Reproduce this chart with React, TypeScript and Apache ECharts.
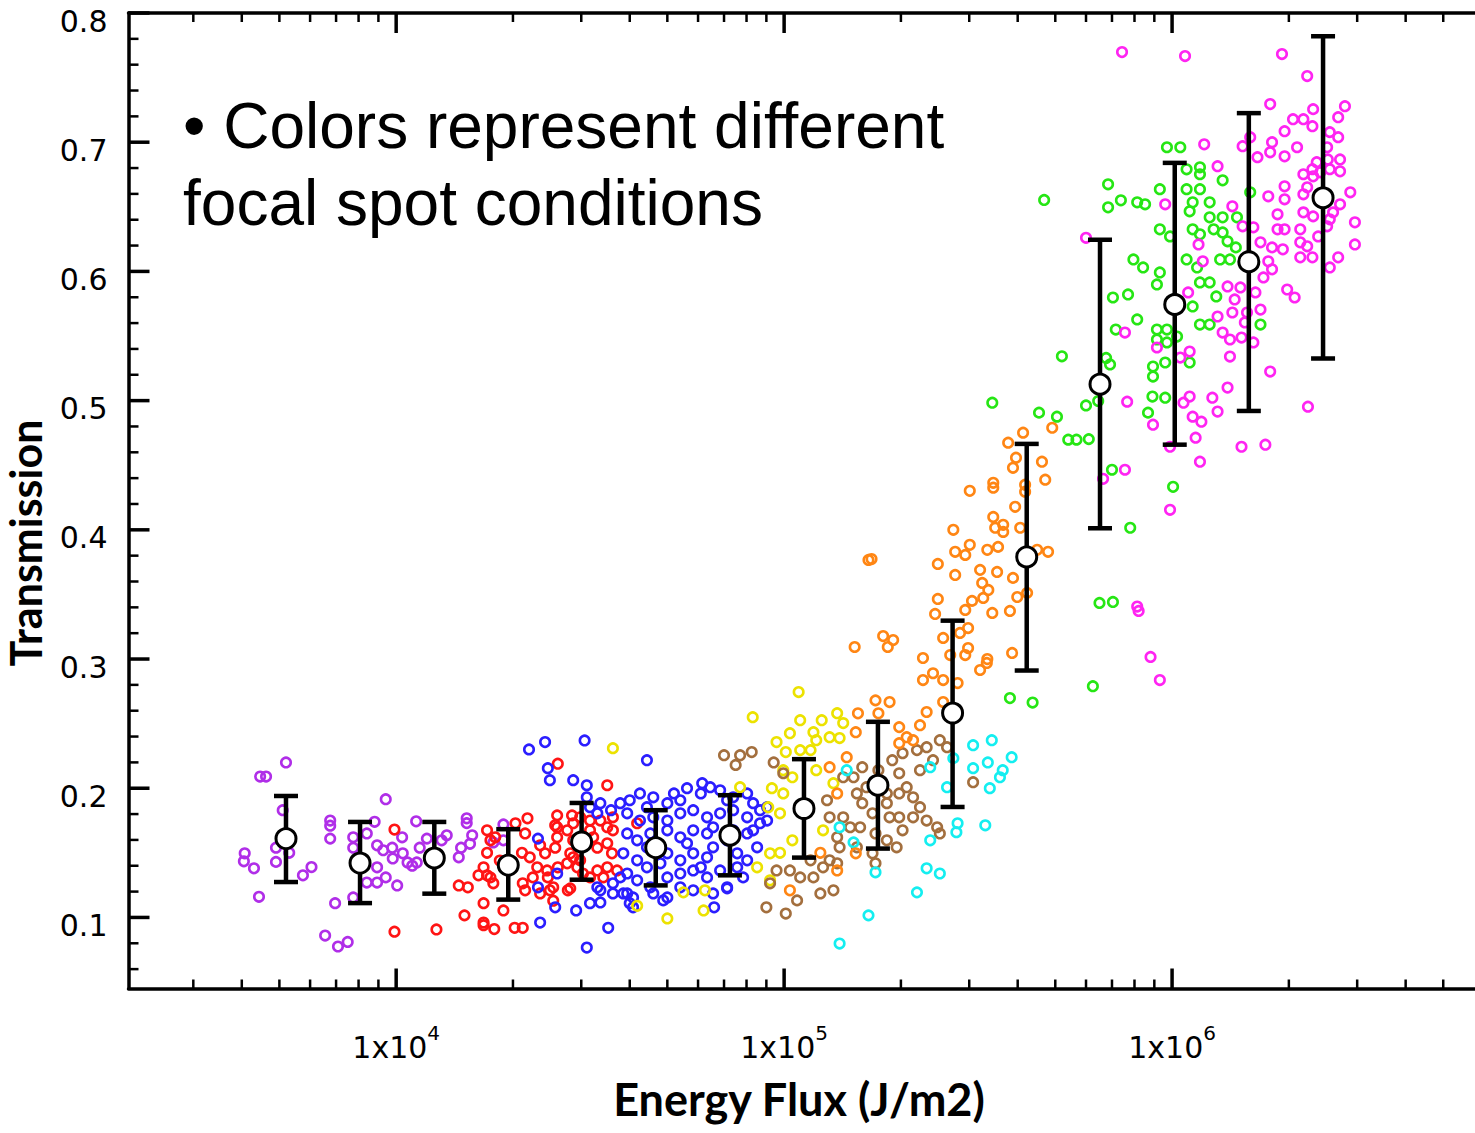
import React, { useEffect, useRef } from "react";
import * as echarts from "echarts";

// ---------- axis extents & ticks ----------
const X_MIN = 2042;
const X_MAX = 6.037e6;
const Y_MIN = 0.045;
const Y_MAX = 0.8;
const xMajorTicks = [1e4, 1e5, 1e6];
const xMinorTicks = [3e3, 4e3, 5e3, 6e3, 7e3, 8e3, 9e3, 2e4, 3e4, 4e4, 5e4, 6e4, 7e4, 8e4, 9e4, 2e5, 3e5, 4e5, 5e5, 6e5, 7e5, 8e5, 9e5, 2e6, 3e6, 4e6, 5e6];
const yMajorTicks = [0.1, 0.2, 0.3, 0.4, 0.5, 0.6, 0.7, 0.8];
const yMinorTicks = [0.06, 0.08, 0.12, 0.14, 0.16, 0.18, 0.22, 0.24, 0.26, 0.28, 0.32, 0.34, 0.36, 0.38, 0.42, 0.44, 0.46, 0.48, 0.52, 0.54, 0.56, 0.58, 0.62, 0.64, 0.66, 0.68, 0.72, 0.74, 0.76, 0.78];

// ---------- binned means with error bars ----------
const binFlux = [5.2e3, 8.07e3, 1.254e4, 1.945e4, 3.006e4, 4.667e4, 7.25e4, 1.125e5, 1.745e5, 2.718e5, 4.22e5, 6.52e5, 1.016e6, 1.577e6, 2.45e6];
const binMean = [0.161, 0.1421, 0.146, 0.1405, 0.1584, 0.154, 0.1636, 0.1843, 0.2023, 0.2582, 0.379, 0.5127, 0.5744, 0.6075, 0.657];
const binHigh = [0.194, 0.1739, 0.1739, 0.1683, 0.1886, 0.183, 0.1946, 0.2225, 0.2514, 0.3297, 0.4665, 0.6245, 0.684, 0.7225, 0.782];
const binLow = [0.1274, 0.1111, 0.1184, 0.1138, 0.1292, 0.1248, 0.1326, 0.1463, 0.1533, 0.1855, 0.2911, 0.4012, 0.4659, 0.492, 0.5326];

// ---------- individual shots, one array per focal spot condition ----------
const purpleShots = [
  [5.2e3, 0.22], [4.46e3, 0.209], [4.62e3, 0.209], [5.1e3, 0.183], [9.4e3, 0.1915],
  [4.07e3, 0.1496], [4.05e3, 0.1434], [4.3e3, 0.138], [4.9e3, 0.154], [4.9e3, 0.143], [5.3e3, 0.15],
  [5.75e3, 0.1326], [6.05e3, 0.139], [4.43e3, 0.116],
  [6.76e3, 0.175], [6.76e3, 0.171], [6.76e3, 0.161], [6.96e3, 0.111],
  [6.56e3, 0.086], [7.08e3, 0.0775], [7.5e3, 0.081],
  [7.75e3, 0.162], [7.75e3, 0.154], [7.75e3, 0.1155],
  [8.8e3, 0.174], [8.4e3, 0.165],
  [8.93e3, 0.1558], [9.26e3, 0.152], [9.77e3, 0.154], [9.8e3, 0.1457], [1.036e4, 0.162], [1.04e4, 0.1496], [1.07e4, 0.1426], [1.1e4, 0.14], [1.13e4, 0.1426],
  [8.4e3, 0.127], [8.93e3, 0.1388], [8.93e3, 0.127], [9.4e3, 0.131], [1.006e4, 0.1248],
  [1.126e4, 0.1744], [1.2e4, 0.161], [1.15e4, 0.154],
  [1.35e4, 0.1636], [1.31e4, 0.1597],
  [1.52e4, 0.1767], [1.52e4, 0.173],
  [1.55e4, 0.157], [1.47e4, 0.154], [1.45e4, 0.1465], [1.57e4, 0.1636],
  [1.89e4, 0.172], [1.78e4, 0.158], [1.89e4, 0.1597],
];

const redShots = [
  [9.9e3, 0.168], [9.9e3, 0.089], [1.27e4, 0.0907], [1.45e4, 0.1248], [1.53e4, 0.1233], [1.5e4, 0.1016],
  [1.68e4, 0.111], [1.68e4, 0.096], [1.68e4, 0.094], [1.79e4, 0.091], [1.89e4, 0.1054], [2.02e4, 0.092], [2.12e4, 0.092],
  [1.715e4, 0.1674], [1.75e4, 0.1597], [1.715e4, 0.15], [1.63e4, 0.1326], [1.715e4, 0.1326], [1.78e4, 0.1264], [1.68e4, 0.1388],
  [2.03e4, 0.1729], [2.18e4, 0.1767], [2.15e4, 0.165], [2.11e4, 0.15], [2.21e4, 0.1465], [2.35e4, 0.1558], [2.31e4, 0.1388], [2.42e4, 0.1496],
  [2.6e4, 0.179], [2.57e4, 0.1713], [2.76e4, 0.1674], [2.61e4, 0.1388], [2.54e4, 0.1233], [2.84e4, 0.179], [2.86e4, 0.1465], [2.81e4, 0.1225],
  [2.54e4, 0.113], [2.35e4, 0.1186], [2.15e4, 0.121], [2.46e4, 0.131], [2.6e4, 0.162], [2.57e4, 0.154],
  [2.61e4, 0.219], [3.5e4, 0.2023], [4.18e4, 0.1729],
  [1.8e4, 0.162], [1.85e4, 0.144], [1.75e4, 0.131], [2.12e4, 0.1264], [2.49e4, 0.121], [2.77e4, 0.121], [2.45e4, 0.1364], [2.25e4, 0.131],
  [2.6e4, 0.1698], [2.86e4, 0.1729], [2.98e4, 0.1775], [3.16e4, 0.175], [3.36e4, 0.175], [3.16e4, 0.1674], [3.5e4, 0.1698], [3.62e4, 0.1775], [3.62e4, 0.1674],
  [2.86e4, 0.1597], [2.81e4, 0.1496], [2.98e4, 0.1442], [3.22e4, 0.162], [3.3e4, 0.154], [3.5e4, 0.1574], [3.6e4, 0.1496], [3.5e4, 0.1388], [3.71e4, 0.1364],
  [3.3e4, 0.1364], [3.16e4, 0.131], [3.42e4, 0.131], [2.93e4, 0.1388], [3.03e4, 0.134], [2.76e4, 0.1419],
];

const blueShots = [
  [2.2e4, 0.23], [2.42e4, 0.2357], [3.06e4, 0.237], [4.43e4, 0.2217], [2.46e4, 0.2155], [2.49e4, 0.2062], [2.86e4, 0.2062], [3.1e4, 0.2023], [3.1e4, 0.193], [3.36e4, 0.1884],
  [2.35e4, 0.096], [2.57e4, 0.1078], [2.91e4, 0.1054], [2.32e4, 0.161], [2.32e4, 0.1233],
  [3.16e4, 0.111], [3.36e4, 0.1116], [3.52e4, 0.092], [3.1e4, 0.0767], [4.0e4, 0.111], [3.94e4, 0.1186], [3.62e4, 0.1264], [3.36e4, 0.121],
  [3.16e4, 0.1853], [3.3e4, 0.1806], [3.58e4, 0.183], [3.78e4, 0.1884], [3.3e4, 0.1233], [3.62e4, 0.1186], [3.78e4, 0.131], [2.6e4, 0.134],
  [4.25e4, 0.196], [4.6e4, 0.193], [5.0e4, 0.1884], [5.4e4, 0.1907], [5.62e4, 0.2], [6.15e4, 0.2039], [6.45e4, 0.2008], [6.84e4, 0.1984], [7.39e4, 0.193], [8.03e4, 0.196], [8.32e4, 0.1884], [9.04e4, 0.1853],
  [3.94e4, 0.1806], [4.25e4, 0.175], [4.6e4, 0.1775], [5.0e4, 0.175], [5.4e4, 0.1806], [5.83e4, 0.183], [6.33e4, 0.1775], [6.84e4, 0.1806], [7.39e4, 0.183], [8.03e4, 0.1775], [8.67e4, 0.1729], [9.04e4, 0.175],
  [3.94e4, 0.165], [4.18e4, 0.1597], [4.52e4, 0.165], [5.0e4, 0.1674], [5.4e4, 0.162], [5.83e4, 0.1674], [6.33e4, 0.165], [6.56e4, 0.1698], [7.39e4, 0.1674], [8.03e4, 0.165], [8.52e4, 0.1543],
  [3.85e4, 0.1496], [4.18e4, 0.1442], [4.43e4, 0.1388], [5.0e4, 0.1496], [5.4e4, 0.1442], [5.83e4, 0.1496], [6.33e4, 0.1465], [6.56e4, 0.1543], [7.57e4, 0.1496], [8.03e4, 0.1442],
  [3.94e4, 0.134], [4.18e4, 0.1287], [4.52e4, 0.1233], [5.0e4, 0.131], [5.4e4, 0.134], [5.83e4, 0.1364], [6.33e4, 0.131], [6.84e4, 0.1364], [7.57e4, 0.1388], [7.84e4, 0.131],
  [3.85e4, 0.1186], [4.08e4, 0.1155], [4.6e4, 0.1186], [5.0e4, 0.1155], [5.4e4, 0.1233], [5.83e4, 0.121], [6.56e4, 0.1186], [7.13e4, 0.1233], [6.6e4, 0.1078], [4.88e4, 0.1132], [4.08e4, 0.1078],
  [4.0e4, 0.1907], [5.2e4, 0.196], [7.13e4, 0.1907], [6.1e4, 0.196], [4.43e4, 0.1543], [5.62e4, 0.1574], [7.13e4, 0.1597], [4.8e4, 0.1419], [6.1e4, 0.1388], [8.32e4, 0.1674], [4.43e4, 0.1853], [8.67e4, 0.183],
  [7.13e4, 0.1225],
];

const yellowShots = [
  [3.62e4, 0.231], [5.0e4, 0.0992], [5.5e4, 0.1194], [4.18e4, 0.109], [9.2e4, 0.1287],
  [1.09e5, 0.2744], [8.3e4, 0.255],
  [9.56e4, 0.2357], [1.035e5, 0.2426], [1.1e5, 0.2527], [1.19e5, 0.2434], [1.25e5, 0.2527], [1.37e5, 0.2581], [1.42e5, 0.2504], [1.21e5, 0.2372], [1.31e5, 0.2395], [1.39e5, 0.2388],
  [1.01e5, 0.228], [1.1e5, 0.2295], [1.17e5, 0.2295], [9.95e4, 0.214], [1.05e5, 0.2085], [1.21e5, 0.214], [9.95e4, 0.196], [9.3e4, 0.2], [9.1e4, 0.1853], [9.76e4, 0.1806],
  [1.26e5, 0.1674], [1.05e5, 0.1597], [9.76e4, 0.15], [9.2e4, 0.1496], [7.7e4, 0.2008], [8.52e4, 0.1388], [6.25e4, 0.121], [6.2e4, 0.1054], [1.34e5, 0.2039],
];

const brownShots = [
  [7.0e4, 0.2256], [7.7e4, 0.2256], [8.25e4, 0.228], [7.5e4, 0.218], [9.4e4, 0.22], [9.95e4, 0.2116],
  [1.29e5, 0.1907], [1.31e5, 0.1775], [1.37e5, 0.162], [1.39e5, 0.1543], [1.31e5, 0.1442], [1.26e5, 0.1388], [1.37e5, 0.1419], [1.17e5, 0.1442], [1.19e5, 0.131],
  [1.08e5, 0.1132], [1.01e5, 0.103], [9.0e4, 0.1078], [9.2e4, 0.1264], [9.56e4, 0.1364], [1.035e5, 0.1364], [1.1e5, 0.131], [1.24e5, 0.1186], [1.34e5, 0.121],
  [1.42e5, 0.1775], [1.48e5, 0.1698], [1.54e5, 0.196], [1.51e5, 0.2085], [1.59e5, 0.2163], [1.42e5, 0.2085], [1.59e5, 0.1884], [1.69e5, 0.1806], [1.84e5, 0.1884],
  [1.72e5, 0.165], [1.84e5, 0.1597], [1.95e5, 0.1543], [2.02e5, 0.1674], [2.15e5, 0.1775], [2.33e5, 0.175], [2.48e5, 0.1698], [2.52e5, 0.165], [2.15e5, 0.193],
  [2.07e5, 0.2008], [1.98e5, 0.2116], [1.9e5, 0.2217], [2.02e5, 0.2271], [2.2e5, 0.2295], [2.33e5, 0.2318], [2.52e5, 0.2372], [2.63e5, 0.2318], [2.42e5, 0.2217],
  [2.24e5, 0.214], [1.98e5, 0.196], [1.84e5, 0.196], [1.75e5, 0.214], [1.63e5, 0.2008], [1.57e5, 0.1698], [1.69e5, 0.1496], [1.72e5, 0.1419], [1.54e5, 0.1543],
  [3.07e5, 0.2047], [1.87e5, 0.1775], [1.98e5, 0.1775], [2.24e5, 0.1853],
];

const cyanShots = [
  [1.39e5, 0.0798], [1.65e5, 0.1016], [1.72e5, 0.1349], [2.2e5, 0.1194], [2.33e5, 0.138], [2.52e5, 0.134], [2.78e5, 0.166], [2.8e5, 0.1729], [3.3e5, 0.1713],
  [3.07e5, 0.2333], [3.43e5, 0.2372], [3.86e5, 0.224], [3.35e5, 0.22], [3.6e5, 0.2085], [3.66e5, 0.214], [3.07e5, 0.2155], [3.39e5, 0.2], [2.73e5, 0.2233],
  [2.63e5, 0.2008], [2.38e5, 0.2163], [2.38e5, 0.1597], [1.39e5, 0.1698], [1.51e5, 0.1581], [1.45e5, 0.214],
];

const orangeShots = [
  [1.55e5, 0.258], [1.72e5, 0.268], [1.87e5, 0.2667], [1.75e5, 0.258], [1.98e5, 0.2473], [2.24e5, 0.2488], [2.07e5, 0.2395], [2.33e5, 0.259], [2.57e5, 0.2667],
  [2.28e5, 0.2837], [2.42e5, 0.289], [2.57e5, 0.2837], [2.8e5, 0.2814], [3.2e5, 0.2915], [3.33e5, 0.297], [1.53e5, 0.2434], [1.45e5, 0.224], [1.31e5, 0.2163],
  [1.37e5, 0.196], [1.035e5, 0.121], [1.37e5, 0.1364], [1.24e5, 0.15], [1.53e5, 0.1496], [1.98e5, 0.2349], [2.15e5, 0.2372],
  [4.13e5, 0.4752], [3.78e5, 0.4674], [3.96e5, 0.4558], [3.89e5, 0.448], [4.62e5, 0.4527], [4.71e5, 0.4388], [4.91e5, 0.479], [3.46e5, 0.4364], [3.46e5, 0.4326],
  [3.01e5, 0.4302], [3.94e5, 0.4178], [4.18e5, 0.4349], [4.18e5, 0.4295], [3.46e5, 0.41], [3.67e5, 0.4039], [3.5e5, 0.4016], [3.67e5, 0.3984], [4.06e5, 0.4016],
  [2.73e5, 0.4], [3.01e5, 0.3884], [2.76e5, 0.383], [2.93e5, 0.3806], [3.34e5, 0.3845], [3.56e5, 0.3868], [2.49e5, 0.3736], [2.76e5, 0.3651], [3.2e5, 0.369],
  [3.54e5, 0.3674], [3.89e5, 0.3628], [3.24e5, 0.3589], [3.36e5, 0.3535], [3.26e5, 0.3473], [3.05e5, 0.345], [2.93e5, 0.338], [3.44e5, 0.3357], [3.82e5, 0.3372],
  [3.99e5, 0.348], [4.23e5, 0.3512], [2.49e5, 0.3465], [2.45e5, 0.3349], [2.98e5, 0.324], [2.84e5, 0.3202], [2.57e5, 0.3163], [2.98e5, 0.3085], [2.93e5, 0.3031],
  [3.34e5, 0.3], [3.87e5, 0.3047], [4.49e5, 0.3845], [4.79e5, 0.383], [2.68e5, 0.3031], [2.28e5, 0.3008], [1.8e5, 0.3178], [1.91e5, 0.3147], [1.85e5, 0.3093],
  [1.52e5, 0.3093], [1.65e5, 0.3767], [1.68e5, 0.3774],
];

const greenShots = [
  [4.68e5, 0.6553], [5.2e5, 0.5343], [6.0e5, 0.4963], [6.45e5, 0.4997], [4.54e5, 0.4907], [5.05e5, 0.4876], [5.4e5, 0.4698], [5.67e5, 0.4698], [6.1e5, 0.4702],
  [7.8e5, 0.4016], [6.5e5, 0.3434], [7.04e5, 0.3442], [6.25e5, 0.279], [3.82e5, 0.2698], [4.37e5, 0.2663], [6.76e5, 0.533], [6.92e5, 0.528], [3.44e5, 0.4984],
  [1.09e6, 0.679], [1.18e6, 0.6806], [1.18e6, 0.6752], [1.35e6, 0.6705], [9.3e5, 0.6636], [1.09e6, 0.6636], [1.18e6, 0.6636], [1.25e6, 0.6535], [1.13e6, 0.6535],
  [1.11e6, 0.6465], [1.25e6, 0.6419], [1.35e6, 0.6419], [1.47e6, 0.6419], [9.3e5, 0.6326], [9.88e5, 0.6271], [1.13e6, 0.6326], [1.18e6, 0.6287], [1.28e6, 0.6326],
  [1.35e6, 0.6302], [1.39e6, 0.6233], [1.46e6, 0.6186], [1.09e6, 0.6093], [1.16e6, 0.6031], [1.33e6, 0.6093], [1.41e6, 0.6093], [7.95e5, 0.6093], [8.42e5, 0.6031],
  [9.3e5, 0.5992], [9.14e5, 0.5899], [1.18e6, 0.5915], [1.25e6, 0.5915], [1.3e6, 0.5806], [7.04e5, 0.5798], [7.7e5, 0.5822], [8.13e5, 0.5628], [1.13e6, 0.5729],
  [1.18e6, 0.5589], [1.25e6, 0.5589], [7.16e5, 0.555], [9.14e5, 0.555], [9.7e5, 0.555], [9.14e5, 0.5473], [9.7e5, 0.545], [1.03e6, 0.5496], [8.93e5, 0.5264],
  [9.6e5, 0.5295], [8.93e5, 0.5186], [1.11e6, 0.5295], [8.9e5, 0.5031], [9.6e5, 0.5023], [8.67e5, 0.4907], [1.69e6, 0.5589], [1.59e6, 0.6612], [7.0e5, 0.4465],
  [1.006e6, 0.4333], [9.7e5, 0.6961], [1.05e6, 0.6961], [6.84e5, 0.6674], [7.38e5, 0.655], [8.13e5, 0.6535], [8.52e5, 0.6519], [6.84e5, 0.6496],
];

const magentaShots = [
  [7.43e5, 0.7698], [1.08e6, 0.7667], [1.92e6, 0.7682], [2.23e6, 0.7512], [1.79e6, 0.7295], [1.21e6, 0.6984], [1.31e6, 0.6814], [1.52e6, 0.6969], [1.59e6, 0.7039],
  [1.66e6, 0.6884], [1.81e6, 0.7], [1.79e6, 0.6922], [1.95e6, 0.7085], [2.05e6, 0.7178], [2.18e6, 0.7178], [2.31e6, 0.7256], [2.3e6, 0.7124], [2.1e6, 0.6961],
  [1.95e6, 0.6891], [2.79e6, 0.7279], [2.68e6, 0.7194], [2.55e6, 0.7078], [2.68e6, 0.7039], [2.51e6, 0.6961], [2.52e6, 0.6867], [2.71e6, 0.6867], [2.71e6, 0.6775],
  [2.36e6, 0.6845], [2.3e6, 0.6791], [2.18e6, 0.6752], [2.31e6, 0.6736], [2.41e6, 0.6767], [2.55e6, 0.6791], [1.95e6, 0.6659], [1.77e6, 0.6581], [1.95e6, 0.6558],
  [2.18e6, 0.6597], [2.23e6, 0.6651], [2.88e6, 0.6612], [2.71e6, 0.6519], [2.6e6, 0.6457], [2.55e6, 0.6403], [1.87e6, 0.6442], [1.87e6, 0.6326], [1.95e6, 0.6326],
  [2.14e6, 0.6326], [2.18e6, 0.6457], [2.31e6, 0.6426], [1.52e6, 0.6349], [1.62e6, 0.6341], [1.43e6, 0.6504], [1.69e6, 0.6225], [1.81e6, 0.6186], [1.93e6, 0.6171],
  [2.14e6, 0.6225], [2.14e6, 0.6109], [2.3e6, 0.6109], [2.23e6, 0.6194], [2.38e6, 0.6271], [2.51e6, 0.6349], [2.68e6, 0.6109], [2.55e6, 0.6031], [2.96e6, 0.638],
  [2.96e6, 0.6209], [1.77e6, 0.6078], [1.81e6, 0.6016], [1.72e6, 0.5953], [1.98e6, 0.586], [2.07e6, 0.5798], [1.64e6, 0.5837], [1.5e6, 0.5876], [1.39e6, 0.5884],
  [1.45e6, 0.5783], [1.43e6, 0.5682], [1.31e6, 0.5651], [1.56e6, 0.5682], [1.69e6, 0.5705], [1.54e6, 0.5605], [1.35e6, 0.5527], [1.41e6, 0.5473], [1.51e6, 0.5488],
  [1.62e6, 0.545], [1.2e6, 0.6078], [1.17e6, 0.6209], [1.1e6, 0.5837], [1.11e6, 0.538], [1.05e6, 0.5333], [9.6e5, 0.6519], [7.56e5, 0.5527], [7.66e5, 0.4992],
  [1.11e6, 0.5031], [1.07e6, 0.4984], [1.27e6, 0.5023], [1.31e6, 0.4915], [1.39e6, 0.5101], [1.13e6, 0.4876], [1.19e6, 0.4837], [1.15e6, 0.4713], [1.18e6, 0.4527],
  [1.41e6, 0.5341], [1.79e6, 0.5225], [2.24e6, 0.4953], [1.51e6, 0.4643], [1.74e6, 0.4659], [8.93e5, 0.4814], [9.14e5, 0.5411], [9.88e5, 0.4643], [7.56e5, 0.4465],
  [6.0e5, 0.626], [6.64e5, 0.4395], [9.88e5, 0.4155], [8.13e5, 0.3406], [8.2e5, 0.3372], [8.8e5, 0.3016], [9.3e5, 0.2837],
];

const groups = [
  { data: purpleShots, color: "#b02ee8" },
  { data: redShots, color: "#ff1414" },
  { data: blueShots, color: "#2b1eff" },
  { data: yellowShots, color: "#ece200" },
  { data: brownShots, color: "#a36f3e" },
  { data: cyanShots, color: "#14eef0" },
  { data: orangeShots, color: "#ff8614" },
  { data: greenShots, color: "#26e614" },
  { data: magentaShots, color: "#ff24f2" },
];

const TICK = "#000";

function xTickSeries(values: number[], len: number, width: number) {
  return {
    type: "custom",
    silent: true,
    z: 6,
    data: values.map((v) => [v, Y_MIN]),
    renderItem: (_p: any, api: any) => {
      const v = api.value(0);
      const b = api.coord([v, Y_MIN]);
      const t = api.coord([v, Y_MAX]);
      return {
        type: "group",
        children: [
          { type: "line", shape: { x1: b[0], y1: b[1], x2: b[0], y2: b[1] - len }, style: { stroke: TICK, lineWidth: width } },
          { type: "line", shape: { x1: t[0], y1: t[1], x2: t[0], y2: t[1] + len }, style: { stroke: TICK, lineWidth: width } },
        ],
      };
    },
  };
}

function yTickSeries(values: number[], len: number, width: number) {
  return {
    type: "custom",
    silent: true,
    z: 6,
    data: values.map((v) => [X_MIN, v]),
    renderItem: (_p: any, api: any) => {
      const p = api.coord([X_MIN, api.value(1)]);
      return { type: "line", shape: { x1: p[0], y1: p[1], x2: p[0] + len, y2: p[1] }, style: { stroke: TICK, lineWidth: width } };
    },
  };
}

export default function App() {
  const ref = useRef<HTMLDivElement>(null);
  useEffect(() => {
    if (!ref.current) return;
    const chart = echarts.init(ref.current, undefined, { renderer: "svg" });
    const axisLine = { show: true, onZero: false, lineStyle: { color: "#000", width: 3.5 } };
    const option: any = {
      animation: false,
      backgroundColor: "#fff",
      grid: { left: 128.5, right: 0, top: 13, bottom: 144.5, containLabel: false, outerBoundsMode: "none" },
      xAxis: [
        {
          type: "log",
          position: "bottom",
          min: X_MIN,
          max: X_MAX,
          axisLine,
          axisTick: { show: false },
          splitLine: { show: false },
          minorTick: { show: false },
          axisLabel: {
            margin: 34,
            interval: 0,
            formatter: (v: number) => {
              const l = Math.log10(v);
              const r = Math.round(l);
              if (Math.abs(l - r) > 1e-6 || r < 4 || r > 6) return "";
              return `{m|1x10}{s|${r}}`;
            },
            rich: {
              m: { fontFamily: "DejaVu Sans", fontSize: 30, color: "#000", verticalAlign: "bottom" },
              s: { fontFamily: "DejaVu Sans", fontSize: 20, color: "#000", verticalAlign: "bottom", padding: [0, 0, 20, 0] },
            },
          },
        },
        {
          type: "log",
          position: "top",
          min: X_MIN,
          max: X_MAX,
          axisLine,
          axisTick: { show: false },
          splitLine: { show: false },
          axisLabel: { show: false },
        },
      ],
      yAxis: {
        type: "value",
        min: Y_MIN,
        max: Y_MAX,
        splitNumber: 8,
        axisLine,
        axisTick: { show: false },
        splitLine: { show: false },
        axisLabel: {
          margin: 21,
          formatter: (v: number) => {
            const t = Math.round(v * 10);
            return Math.abs(v * 10 - t) < 1e-6 && t >= 1 && t <= 8 ? `{n|${(t / 10).toFixed(1)}}` : "";
          },
          rich: {
            n: { fontFamily: "DejaVu Sans", fontSize: 30, color: "#000", padding: [16, 0, 0, 0] },
          },
        },
      },
      graphic: [
        {
          type: "text",
          x: 183,
          y: 126,
          style: { text: "• Colors represent different", fontFamily: "Liberation Sans", fontSize: 64, fill: "#000", verticalAlign: "middle", align: "left" },
        },
        {
          type: "text",
          x: 183,
          y: 203,
          style: { text: "focal spot conditions", fontFamily: "Liberation Sans", fontSize: 64, fill: "#000", verticalAlign: "middle", align: "left" },
        },
        {
          type: "text",
          x: 25,
          y: 543,
          rotation: Math.PI / 2,
          style: { text: "Transmission", fontFamily: "Lato", fontWeight: "bold", fontSize: 43, fill: "#000", verticalAlign: "middle", align: "center" },
        },
        {
          type: "text",
          x: 799,
          y: 1099,
          style: { text: "Energy Flux (J/m2)", fontFamily: "Lato", fontWeight: "bold", fontSize: 45, fill: "#000", verticalAlign: "middle", align: "center" },
        },
      ],
      series: [
        ...groups.map((g) => ({
          type: "scatter",
          z: 3,
          symbol: "circle",
          symbolSize: 9.5,
          silent: true,
          data: g.data,
          itemStyle: { color: "rgba(255,255,255,0)", borderColor: g.color, borderWidth: 2.6, opacity: 1 },
        })),
        xTickSeries(xMinorTicks, 9, 2.5),
        xTickSeries(xMajorTicks, 20, 3.5),
        yTickSeries(yMinorTicks, 10, 2.5),
        yTickSeries(yMajorTicks, 21, 3.5),
        {
          type: "custom",
          silent: true,
          z: 8,
          data: binFlux.map((x, i) => [x, binMean[i], binLow[i], binHigh[i]]),
          renderItem: (_p: any, api: any) => {
            const x = api.value(0);
            const lo = api.coord([x, api.value(2)]);
            const hi = api.coord([x, api.value(3)]);
            const w = 12;
            const st = { stroke: "#000", lineWidth: 4.5 };
            return {
              type: "group",
              children: [
                { type: "line", shape: { x1: lo[0], y1: lo[1], x2: hi[0], y2: hi[1] }, style: st },
                { type: "line", shape: { x1: lo[0] - w, y1: lo[1], x2: lo[0] + w, y2: lo[1] }, style: st },
                { type: "line", shape: { x1: hi[0] - w, y1: hi[1], x2: hi[0] + w, y2: hi[1] }, style: st },
              ],
            };
          },
        },
        {
          type: "scatter",
          z: 9,
          symbol: "circle",
          symbolSize: 20,
          silent: true,
          data: binFlux.map((x, i) => [x, binMean[i]]),
          itemStyle: { color: "#fff", borderColor: "#000", borderWidth: 3, opacity: 1 },
        },
      ],
    };
    chart.setOption(option);
    return () => chart.dispose();
  }, []);
  return <div ref={ref} style={{ position: "absolute", left: 0, top: 0, width: 1475, height: 1133 }} />;
}
